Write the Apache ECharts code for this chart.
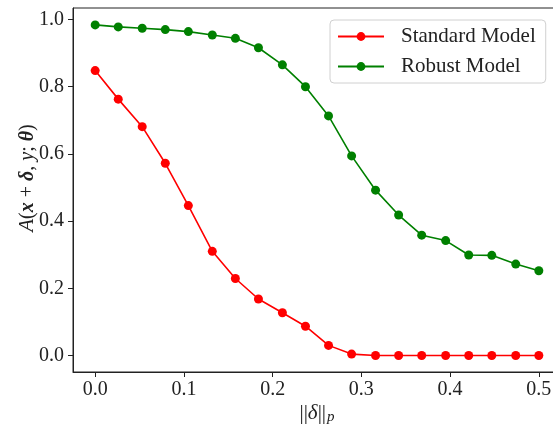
<!DOCTYPE html>
<html><head><meta charset="utf-8">
<script src="https://cdn.jsdelivr.net/npm/echarts@6/dist/echarts.min.js"></script>
<style>html,body{margin:0;padding:0;background:#fff;overflow:hidden}#c{width:561px;height:425px}</style>
</head><body><div id="c"></div>
<script>
const xValues = [0, 0.026, 0.053, 0.079, 0.105, 0.132, 0.158, 0.184, 0.211, 0.237, 0.263, 0.289, 0.316, 0.342, 0.368, 0.395, 0.421, 0.447, 0.474, 0.5];
const standardModel = [0.848, 0.763, 0.681, 0.572, 0.446, 0.310, 0.229, 0.168, 0.127, 0.087, 0.030, 0.004, 0, 0, 0, 0, 0, 0, 0, 0];
const robustModel = [0.984, 0.978, 0.974, 0.970, 0.964, 0.954, 0.944, 0.916, 0.865, 0.800, 0.713, 0.594, 0.492, 0.418, 0.358, 0.342, 0.299, 0.298, 0.272, 0.252];
const xTicks = [0, 0.1, 0.2, 0.3, 0.4, 0.5];
const yTicks = [0, 0.2, 0.4, 0.6, 0.8, 1.0];
const seriesNames = ['Standard Model', 'Robust Model'];

const FONT = 'Liberation Serif';
const chart = echarts.init(document.getElementById('c'), null, {renderer: 'canvas'});
const pair = (xs, ys) => xs.map((x, i) => [x, ys[i]]);
chart.setOption({
  animation: false,
  backgroundColor: '#fff',
  grid: {left: 73, top: 8, right: 0, bottom: 53, containLabel: false, outerBoundsMode: 'none',
    show: true, borderColor: '#222', borderWidth: 1},
  xAxis: {
    type: 'value', min: -0.025, max: 0.525,
    axisLine: {show: true, onZero: false, lineStyle: {color: '#222', width: 1}},
    axisTick: {show: true, length: 5, customValues: xTicks, lineStyle: {color: '#222'}},
    axisLabel: {customValues: xTicks, margin: 8, color: '#222', fontFamily: FONT, fontSize: 20,
      formatter: v => v.toFixed(1)},
    splitLine: {show: false},
    name: '{n|||}{i|δ}{n|||}{s|p}',
    nameLocation: 'middle', nameGap: 30, nameMoveOverlap: false,
    nameTextStyle: {
      rich: {
        n: {fontFamily: FONT, fontSize: 21, color: '#222'},
        i: {fontFamily: FONT, fontSize: 21, fontStyle: 'italic', color: '#222'},
        s: {fontFamily: FONT, fontSize: 15, fontStyle: 'italic', color: '#222', padding: [8, 0, 0, 1]}
      }
    }
  },
  yAxis: {
    type: 'value', min: -0.04925, max: 1.03425,
    axisLine: {show: true, onZero: false, lineStyle: {color: '#222', width: 1}},
    axisTick: {show: true, length: 5, customValues: yTicks, lineStyle: {color: '#222'}},
    axisLabel: {customValues: yTicks, margin: 9, color: '#222', fontFamily: FONT, fontSize: 20,
      formatter: v => v.toFixed(1)},
    splitLine: {show: false},
    name: '{c|A}{n|(}{b|x}{n| + }{b|δ}{n|, }{i|y}{n|; }{b|θ}{n|)}',
    nameLocation: 'middle', nameGap: 35, nameMoveOverlap: false,
    nameTextStyle: {
      padding: [0, 0, 0, 24],
      rich: {
        c: {fontFamily: FONT, fontSize: 21, fontStyle: 'italic', color: '#222'},
        n: {fontFamily: FONT, fontSize: 20, color: '#222'},
        b: {fontFamily: FONT, fontSize: 20, fontStyle: 'italic', fontWeight: 'bold', color: '#222'},
        i: {fontFamily: FONT, fontSize: 20, fontStyle: 'italic', color: '#222'}
      }
    }
  },
  legend: {
    orient: 'vertical', left: 330, top: 20,
    padding: [6, 10, 6, 7], itemGap: 9,
    itemWidth: 46, itemHeight: 11,
    backgroundColor: 'rgba(255,255,255,0.8)', borderColor: '#d0d0d0', borderWidth: 1, borderRadius: 4,
    textStyle: {fontFamily: FONT, fontSize: 21, color: '#222', padding: [0, 0, 0, 12]},
    data: seriesNames
  },
  series: [
    {name: seriesNames[0], type: 'line', data: pair(xValues, standardModel), color: '#ff0000',
      symbol: 'circle', symbolSize: 9, lineStyle: {width: 1.6}, z: 3},
    {name: seriesNames[1], type: 'line', data: pair(xValues, robustModel), color: '#008000',
      symbol: 'circle', symbolSize: 9, lineStyle: {width: 1.6}, z: 2}
  ]
});
</script></body></html>
